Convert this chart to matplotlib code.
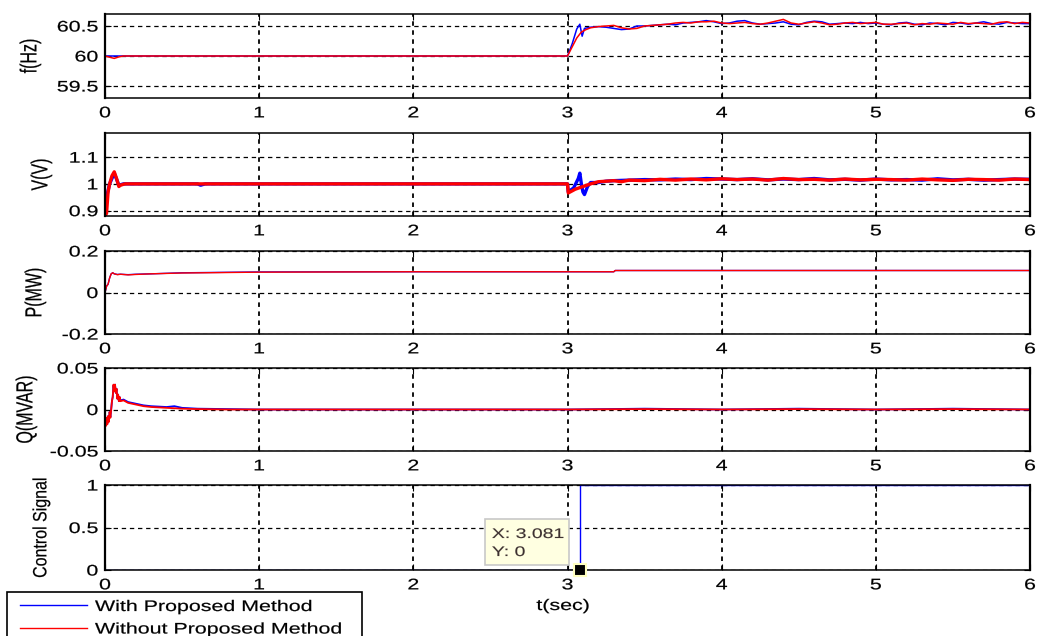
import matplotlib
matplotlib.use("Agg")
import matplotlib.pyplot as plt
from matplotlib.patheffects import AbstractPathEffect
from matplotlib.transforms import Affine2D
from matplotlib.lines import Line2D
from matplotlib.patches import Rectangle

plt.rcParams['font.family'] = ['Liberation Sans', 'DejaVu Sans']

# ---------------- data ----------------
# Frequency (Hz)
f_blue_t = [0, 0.03, 0.06, 0.1, 1.0, 2.0, 2.99, 3.0, 3.03, 3.06, 3.08, 3.095, 3.11, 3.15, 3.2, 3.25,
            3.3, 3.35, 3.4, 3.45, 3.5, 3.55, 3.6, 3.65, 3.7, 3.75, 3.8, 3.85, 3.9, 3.95, 4.0,
            4.05, 4.1, 4.15, 4.2, 4.25, 4.3, 4.35, 4.4, 4.45, 4.5, 4.55, 4.6, 4.65, 4.7, 4.75,
            4.8, 4.85, 4.9, 4.95, 5.0, 5.05, 5.1, 5.15, 5.2, 5.25, 5.3, 5.35, 5.4, 5.45, 5.5,
            5.55, 5.6, 5.65, 5.7, 5.75, 5.8, 5.85, 5.9, 5.95, 6.0]
f_blue_v = [60.0, 60.0, 60.0, 60.0, 60.0, 60.0, 60.0, 60.0, 60.2, 60.45, 60.53, 60.33, 60.46, 60.48, 60.49, 60.48,
            60.46, 60.44, 60.45, 60.5, 60.5, 60.51, 60.52, 60.53, 60.52, 60.55, 60.56, 60.57, 60.59, 60.57, 60.54,
            60.55, 60.58, 60.59, 60.55, 60.53, 60.54, 60.55, 60.57, 60.53, 60.52, 60.56, 60.58, 60.57, 60.53, 60.54,
            60.55, 60.54, 60.56, 60.54, 60.55, 60.53, 60.52, 60.55, 60.56, 60.53, 60.52, 60.55, 60.54, 60.52, 60.56,
            60.55, 60.53, 60.55, 60.57, 60.54, 60.53, 60.56, 60.55, 60.54, 60.54]
f_red_t = [0, 0.03, 0.06, 0.09, 0.12, 1.0, 2.0, 2.99, 3.0, 3.03, 3.06, 3.09, 3.12, 3.15, 3.2, 3.25,
           3.3, 3.35, 3.4, 3.45, 3.5, 3.55, 3.6, 3.65, 3.7, 3.75, 3.8, 3.85, 3.9, 3.95, 4.0,
           4.05, 4.1, 4.15, 4.2, 4.25, 4.3, 4.35, 4.4, 4.45, 4.5, 4.55, 4.6, 4.65, 4.7, 4.75,
           4.8, 4.85, 4.9, 4.95, 5.0, 5.05, 5.1, 5.15, 5.2, 5.25, 5.3, 5.35, 5.4, 5.45, 5.5,
           5.55, 5.6, 5.65, 5.7, 5.75, 5.8, 5.85, 5.9, 5.95, 6.0]
f_red_v = [60.0, 59.98, 59.96, 59.985, 60.0, 60.0, 60.0, 60.0, 60.0, 60.15, 60.3, 60.4, 60.44, 60.47, 60.49, 60.5,
           60.51, 60.47, 60.45, 60.46, 60.5, 60.51, 60.52, 60.53, 60.55, 60.56, 60.55, 60.57, 60.57, 60.58, 60.55,
           60.54, 60.55, 60.56, 60.54, 60.53, 60.55, 60.58, 60.61, 60.55, 60.53, 60.55, 60.57, 60.55, 60.52, 60.53,
           60.55, 60.56, 60.54, 60.55, 60.56, 60.53, 60.53, 60.54, 60.55, 60.52, 60.54, 60.53, 60.55, 60.54, 60.53,
           60.56, 60.54, 60.55, 60.54, 60.53, 60.56, 60.57, 60.54, 60.56, 60.55]

# Voltage (V)
v_blue_t = [0, 0.01, 0.03, 0.06, 0.09, 0.12, 0.6, 0.62, 0.65, 2.99, 3.0, 3.005, 3.04, 3.07, 3.08, 3.09,
            3.1, 3.11, 3.13, 3.15, 3.2, 3.25, 3.3, 3.4, 3.5, 3.6, 3.7, 3.8, 3.9, 4.0, 4.1, 4.2,
            4.3, 4.4, 4.5, 4.6, 4.7, 4.8, 4.9, 5.0, 5.1, 5.2, 5.3, 5.4, 5.5, 5.6, 5.7, 5.8, 5.9, 6.0]
v_blue_v = [0.88, 0.95, 1.0, 1.04, 0.995, 1.0, 1.0, 0.995, 1.0, 1.0, 1.0, 0.97, 0.985, 1.02, 1.04, 1.0,
            0.97, 0.96, 0.99, 1.005, 1.005, 1.01, 1.012, 1.014, 1.016, 1.015, 1.018, 1.016, 1.02, 1.018, 1.016, 1.019,
            1.015, 1.018, 1.016, 1.02, 1.015, 1.017, 1.014, 1.018, 1.015, 1.016, 1.014, 1.019, 1.015, 1.017, 1.014, 1.016, 1.018, 1.017]
v_red_t = [0, 0.01, 0.02, 0.03, 0.045, 0.06, 0.075, 0.09, 0.1, 0.13, 0.2, 2.99, 3.0, 3.005, 3.05, 3.1,
           3.15, 3.2, 3.25, 3.3, 3.35, 3.4, 3.5, 3.6, 3.7, 3.8, 3.9, 4.0, 4.1, 4.2, 4.3, 4.4,
           4.5, 4.6, 4.7, 4.8, 4.9, 5.0, 5.1, 5.2, 5.3, 5.4, 5.5, 5.6, 5.7, 5.8, 5.9, 6.0]
v_red_v = [0.88, 0.89, 0.97, 1.0, 1.03, 1.045, 1.02, 0.99, 0.995, 1.0, 1.0, 1.0, 1.0, 0.966, 0.98, 0.99,
           1.0, 1.008, 1.01, 1.012, 1.008, 1.014, 1.012, 1.017, 1.014, 1.018, 1.015, 1.019, 1.016, 1.018, 1.014, 1.02,
           1.016, 1.017, 1.014, 1.018, 1.015, 1.017, 1.016, 1.014, 1.018, 1.015, 1.013, 1.017, 1.016, 1.014, 1.018, 1.016]

# Active power P (MW)
p_blue_t = [0, 0.01, 0.02, 0.03, 0.04, 0.05, 0.06, 0.08, 0.1, 0.15, 0.2, 0.3, 0.5, 1.0, 2.0, 3.0, 3.3, 3.31, 6.0]
p_blue_v = [0, 0.03, 0.04, 0.07, 0.09, 0.095, 0.09, 0.087, 0.088, 0.086, 0.088, 0.09, 0.095, 0.099, 0.1, 0.1, 0.1, 0.106, 0.106]
p_red_t = [0, 0.01, 0.02, 0.03, 0.04, 0.05, 0.06, 0.08, 0.1, 0.15, 0.2, 0.3, 0.5, 1.0, 2.0, 3.0, 3.3, 3.31, 6.0]
p_red_v = [0, 0.03, 0.04, 0.07, 0.09, 0.095, 0.09, 0.086, 0.088, 0.085, 0.087, 0.09, 0.094, 0.098, 0.1, 0.1, 0.1, 0.106, 0.106]

# Reactive power Q (MVAR)
q_blue_t = [0, 0.005, 0.01, 0.015, 0.02, 0.025, 0.03, 0.035, 0.04, 0.045, 0.05, 0.055, 0.06, 0.065, 0.07,
            0.075, 0.08, 0.085, 0.09, 0.095, 0.1, 0.12, 0.15, 0.2, 0.25, 0.3, 0.4, 0.45, 0.5, 0.6, 0.8,
            1.0, 2.0, 3.0, 3.5, 4.0, 4.5, 5.0, 5.5, 6.0]
q_blue_v = [-0.005, -0.019, -0.01, -0.017, -0.008, -0.014, -0.003, -0.009, 0.0, 0.01, 0.015, 0.029, 0.022, 0.03, 0.02,
            0.025, 0.013, 0.018, 0.01, 0.015, 0.011, 0.012, 0.009, 0.007, 0.005, 0.004, 0.003, 0.004, 0.002, 0.001, 0.0005,
            0.0, 0.0, 0.0, 0.001, 0.0, 0.001, 0.0, 0.001, 0.0]
q_red_t = [0, 0.005, 0.01, 0.015, 0.02, 0.025, 0.03, 0.035, 0.04, 0.045, 0.05, 0.055, 0.06, 0.065, 0.07,
           0.075, 0.08, 0.085, 0.09, 0.095, 0.1, 0.12, 0.15, 0.2, 0.25, 0.3, 0.4, 0.5, 0.6, 0.8,
           1.0, 2.0, 3.0, 3.5, 4.0, 4.5, 5.0, 5.5, 6.0]
q_red_v = [-0.005, -0.02, -0.01, -0.018, -0.008, -0.015, -0.003, -0.01, 0.0, 0.01, 0.015, 0.03, 0.022, 0.03, 0.02,
           0.025, 0.013, 0.018, 0.01, 0.015, 0.01, 0.011, 0.008, 0.006, 0.004, 0.003, 0.002, 0.001, 0.0005, 0.0,
           0.0, 0.0, 0.0, 0.0005, 0.0, 0.0005, 0.0, 0.0005, 0.0]

# Control signal
c_blue_t = [0, 3.081, 3.081, 6.0]
c_blue_v = [0, 0, 1, 1]

tip_x = 3.081
tip_y = 0

x_ticks = [0, 1, 2, 3, 4, 5, 6]
legend_labels = ['With Proposed Method', 'Without Proposed Method']

panels = [
    dict(ylabel='f(Hz)', ylim=(59.3, 60.7), yticks=[59.5, 60, 60.5], ytl=['59.5', '60', '60.5'],
         blue=(f_blue_t, f_blue_v), red=(f_red_t, f_red_v), lw=1.1, top=14, bot=98, lx=30, ls=1.45),
    dict(ylabel='V(V)', ylim=(0.88, 1.19), yticks=[0.9, 1.0, 1.1], ytl=['0.9', '1', '1.1'],
         blue=(v_blue_t, v_blue_v), red=(v_red_t, v_red_v), lw=2.4, top=133, bot=216, lx=41, ls=1.45),
    dict(ylabel='P(MW)', ylim=(-0.2, 0.2), yticks=[-0.2, 0, 0.2], ytl=['-0.2', '0', '0.2'],
         blue=(p_blue_t, p_blue_v), red=(p_red_t, p_red_v), lw=1.0, top=251, bot=334, lx=35, ls=1.45),
    dict(ylabel='Q(MVAR)', ylim=(-0.05, 0.05), yticks=[-0.05, 0, 0.05], ytl=['-0.05', '0', '0.05'],
         blue=(q_blue_t, q_blue_v), red=(q_red_t, q_red_v), lw=1.3, top=368, bot=451, lx=26, ls=1.45),
    dict(ylabel='Control Signal', ylim=(0, 1), yticks=[0, 0.5, 1], ytl=['0', '0.5', '1'],
         blue=(c_blue_t, c_blue_v), red=None, lw=1.0, top=485, bot=570, lx=41, ls=1.2),
]


class Stretch(AbstractPathEffect):
    """Stretch glyph paths in the text's own frame (mimics the widened reference text)."""

    def __init__(self, sx=1.0, sy=1.0, xanchor='center', stroke=0.15):
        super().__init__()
        self.sx, self.sy, self.xanchor, self.stroke = sx, sy, xanchor, stroke

    def draw_path(self, renderer, gc, tpath, affine, rgbFace=None):
        if len(tpath.vertices) == 0:
            return
        ext = tpath.get_extents()
        if self.xanchor == 'right':
            cx = ext.x1
        elif self.xanchor == 'left':
            cx = ext.x0
        else:
            cx = 0.5 * (ext.x0 + ext.x1)
        cy = 0.5 * (ext.y0 + ext.y1)
        t = Affine2D().translate(-cx, -cy).scale(self.sx, self.sy).translate(cx, cy) + affine
        gc0 = renderer.new_gc()
        gc0.copy_properties(gc)
        if self.stroke > 0 and rgbFace is not None:
            gc0.set_linewidth(self.stroke)
            gc0.set_foreground(rgbFace)
        renderer.draw_path(gc0, tpath, t, rgbFace)
        gc0.restore()


SX = 1.4
W, H = 1037, 636
fig = plt.figure(figsize=(W / 100, H / 100), dpi=100)
left_px, right_px = 105, 1030


def fx(px):
    return px / W


def fy(py):
    return 1 - py / H


axes = []
lines = []
for p in panels:
    ax = fig.add_axes([fx(left_px), fy(p['bot']), (right_px - left_px) / W, (p['bot'] - p['top']) / H])
    lb, = ax.plot(p['blue'][0], p['blue'][1], color='#0000ff', lw=p['lw'] if p['red'] is not None else 1.0)
    if p['red'] is not None:
        lr, = ax.plot(p['red'][0], p['red'][1], color='#ff0000', lw=p['lw'])
        lines = [lb, lr]
    ax.set_xlim(0, 6)
    ax.set_ylim(*p['ylim'])
    ax.set_xticks(x_ticks)
    ax.set_xticklabels([str(t) for t in x_ticks])
    ax.set_yticks(p['yticks'])
    ax.set_yticklabels(p['ytl'])
    ax.xaxis.grid(True, color='black', linestyle=(0, (2.5, 2.5)), linewidth=1.3)
    ax.yaxis.grid(True, color='black', linestyle=(0, (3.5, 3.0)), linewidth=0.9)
    ax.tick_params(direction='in', length=4, width=0.8, labelsize=11, top=True, right=True)
    ax.tick_params(axis='x', pad=6)
    ax.tick_params(axis='y', pad=5)
    for lbl in ax.get_xticklabels():
        lbl.set_path_effects([Stretch(SX, 1.0, 'center')])
    for lbl in ax.get_yticklabels():
        lbl.set_path_effects([Stretch(SX, 1.0, 'right')])
    for name, s in ax.spines.items():
        s.set_linewidth(1.6 if name in ('left', 'right') else 1.1)
        s.set_color('black')
    ax.set_ylabel(p['ylabel'], fontsize=11.5, va='center', ha='center',
                  path_effects=[Stretch(1.0, p['ls'], 'center')])
    # place label centre at the reference pixel column
    x_ax = (p['lx'] - left_px) / (right_px - left_px)
    ax.yaxis.set_label_coords(x_ax, 0.5)
    axes.append(ax)

ax5 = axes[-1]
fig.text(fx(563), fy(610), 't(sec)', fontsize=11, ha='center', va='baseline',
         path_effects=[Stretch(SX, 1.0, 'center')])

# datatip
ax5.plot([tip_x], [tip_y], marker='s', color='black', markersize=8.5,
         markeredgecolor='#ffffc0', markeredgewidth=1.5, clip_on=False, zorder=10)
fig.add_artist(Rectangle((fx(485), fy(565)), 84 / W, 46 / H, transform=fig.transFigure,
                         facecolor='#ffffe1', edgecolor='#c8c8c8', linewidth=1.2, zorder=5))
for txt, base in [('X: %.3f' % tip_x, 538), ('Y: %d' % tip_y, 556)]:
    fig.text(fx(492), fy(base), txt, fontsize=10, color='#3c3030', ha='left', va='baseline',
             path_effects=[Stretch(SX, 1.0, 'left', 0.1)], zorder=6)

# legend (drawn by hand so its box matches the widened text)
fig.add_artist(Rectangle((fx(7), fy(645)), 355 / W, 53 / H, transform=fig.transFigure,
                         facecolor='white', edgecolor='black', linewidth=1.2, clip_on=False, zorder=5))
for ln, lab, ly, by in [(lines[0], legend_labels[0], 605, 611), (lines[1], legend_labels[1], 628, 633.5)]:
    fig.add_artist(Line2D([fx(20), fx(87)], [fy(ly), fy(ly)], color=ln.get_color(), lw=1.0,
                          transform=fig.transFigure, zorder=6))
    fig.text(fx(95), fy(by), lab, fontsize=11, ha='left', va='baseline',
             path_effects=[Stretch(SX, 1.0, 'left')], zorder=6)

fig.savefig('out.png', dpi=100)
